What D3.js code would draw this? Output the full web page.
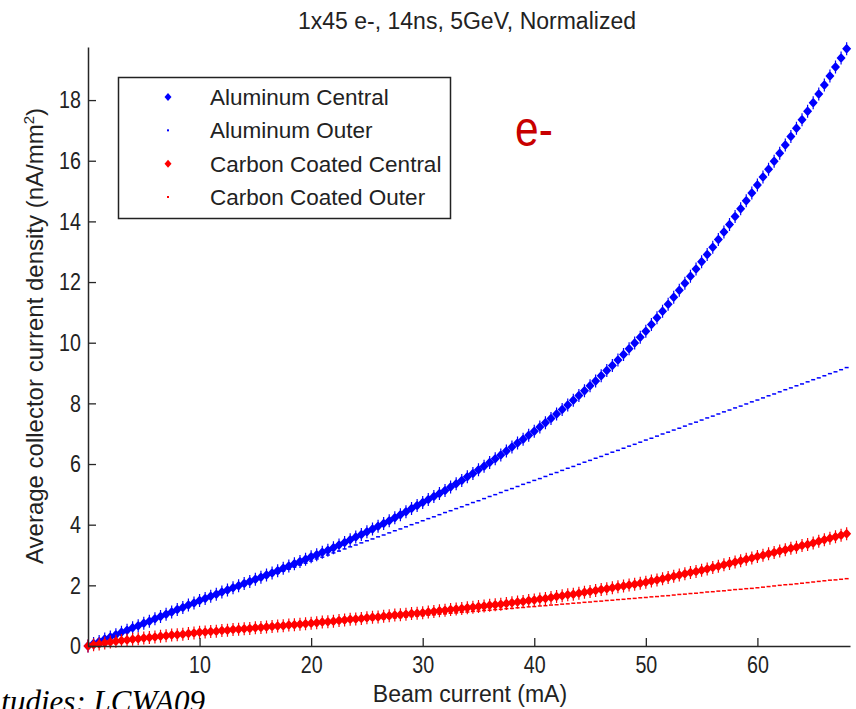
<!DOCTYPE html>
<html>
<head>
<meta charset="utf-8">
<script src="https://cdn.jsdelivr.net/npm/d3@7"></script>
<style>
  body { margin: 0; background: #fff; }
  svg { display: block; font-family: "Liberation Sans", Arial, sans-serif; }
</style>
</head>
<body>
<svg id="chart" width="856" height="709"></svg>
<script>
// beam current (mA), shared by all four series
const beamCurrent = [0,0.5,1,1.5,2,2.5,3,3.5,4,4.5,5,5.5,6,6.5,7,7.5,8,8.5,9,9.5,10,
  10.5,11,11.5,12,12.5,13,13.5,14,14.5,15,15.5,16,16.5,17,17.5,18,18.5,19,19.5,20,
  20.5,21,21.5,22,22.5,23,23.5,24,24.5,25,25.5,26,26.5,27,27.5,28,28.5,29,29.5,30,
  30.5,31,31.5,32,32.5,33,33.5,34,34.5,35,35.5,36,36.5,37,37.5,38,38.5,39,39.5,40,
  40.5,41,41.5,42,42.5,43,43.5,44,44.5,45,45.5,46,46.5,47,47.5,48,48.5,49,49.5,50,
  50.5,51,51.5,52,52.5,53,53.5,54,54.5,55,55.5,56,56.5,57,57.5,58,58.5,59,59.5,60,
  60.5,61,61.5,62,62.5,63,63.5,64,64.5,65,65.5,66,66.5,67,67.5,68];

// average collector current density (nA/mm^2)
const alCentral = [0,0.08,0.15,0.23,0.3,0.37,0.45,0.52,0.6,0.67,0.75,0.82,0.9,0.97,1.05,1.12,1.2,1.27,1.35,1.42,1.5,
  1.57,1.64,1.71,1.78,1.85,1.92,1.99,2.06,2.13,2.2,2.27,2.34,2.41,2.48,2.56,2.64,2.71,2.79,2.86,2.94,
  3.01,3.09,3.16,3.24,3.33,3.41,3.5,3.59,3.68,3.77,3.86,3.95,4.04,4.13,4.23,4.33,4.43,4.53,4.63,4.73,
  4.83,4.93,5.03,5.13,5.24,5.35,5.46,5.58,5.69,5.81,5.93,6.05,6.17,6.3,6.43,6.56,6.69,6.82,6.95,7.08,
  7.22,7.36,7.5,7.65,7.8,7.95,8.1,8.26,8.42,8.58,8.74,8.91,9.08,9.25,9.43,9.61,9.8,9.99,10.18,10.38,
  10.6,10.82,11.04,11.27,11.5,11.73,11.96,12.19,12.43,12.67,12.91,13.15,13.4,13.65,13.9,14.16,14.42,14.68,14.94,15.2,
  15.46,15.72,15.98,16.25,16.52,16.8,17.07,17.35,17.63,17.91,18.2,18.5,18.79,19.09,19.39,19.69];

const alOuter = [0,0.07,0.15,0.22,0.29,0.37,0.44,0.51,0.59,0.66,0.74,0.81,0.88,0.96,1.03,1.1,1.18,1.25,1.32,1.4,1.47,
  1.54,1.6,1.67,1.74,1.8,1.87,1.94,2.0,2.07,2.14,2.2,2.27,2.34,2.4,2.47,2.53,2.6,2.67,2.73,2.8,
  2.87,2.93,3.0,3.07,3.13,3.2,3.27,3.33,3.4,3.47,3.53,3.6,3.66,3.73,3.8,3.86,3.93,4.0,4.06,4.13,
  4.2,4.26,4.33,4.4,4.46,4.53,4.59,4.66,4.73,4.79,4.86,4.93,4.99,5.06,5.13,5.19,5.26,5.33,5.39,5.46,
  5.52,5.59,5.66,5.72,5.79,5.86,5.92,5.99,6.06,6.12,6.19,6.25,6.32,6.39,6.45,6.52,6.59,6.65,6.72,6.79,
  6.85,6.92,6.99,7.05,7.12,7.18,7.25,7.32,7.38,7.45,7.52,7.58,7.65,7.72,7.78,7.85,7.91,7.98,8.05,8.11,
  8.18,8.25,8.31,8.38,8.45,8.51,8.58,8.64,8.71,8.78,8.84,8.91,8.98,9.04,9.11,9.18];

const ccCentral = [0,0.04,0.07,0.1,0.13,0.16,0.18,0.2,0.22,0.24,0.26,0.28,0.3,0.32,0.34,0.36,0.37,0.39,0.41,0.43,0.45,
  0.46,0.48,0.49,0.51,0.52,0.54,0.55,0.57,0.58,0.6,0.61,0.63,0.64,0.66,0.67,0.69,0.7,0.72,0.73,0.75,
  0.77,0.79,0.8,0.82,0.84,0.86,0.88,0.89,0.91,0.93,0.95,0.96,0.98,1.0,1.02,1.03,1.05,1.07,1.08,1.1,
  1.12,1.14,1.16,1.18,1.2,1.22,1.24,1.26,1.28,1.3,1.32,1.34,1.36,1.38,1.4,1.43,1.45,1.47,1.5,1.52,
  1.55,1.57,1.6,1.63,1.66,1.69,1.71,1.74,1.77,1.8,1.83,1.86,1.89,1.92,1.95,1.98,2.01,2.04,2.07,2.1,
  2.14,2.18,2.22,2.26,2.3,2.34,2.38,2.42,2.46,2.5,2.54,2.59,2.63,2.68,2.72,2.77,2.81,2.86,2.9,2.95,
  2.99,3.04,3.08,3.13,3.17,3.22,3.26,3.31,3.35,3.4,3.45,3.5,3.55,3.6,3.65,3.7];

const ccOuter = [0,0.04,0.07,0.1,0.12,0.15,0.17,0.19,0.21,0.23,0.25,0.27,0.29,0.31,0.33,0.34,0.36,0.38,0.4,0.41,0.43,
  0.44,0.46,0.47,0.49,0.5,0.52,0.53,0.55,0.56,0.58,0.59,0.61,0.62,0.64,0.65,0.66,0.68,0.69,0.71,0.72,
  0.73,0.75,0.76,0.78,0.79,0.8,0.82,0.83,0.85,0.86,0.87,0.89,0.9,0.92,0.93,0.94,0.96,0.97,0.99,1.0,
  1.02,1.03,1.05,1.06,1.08,1.09,1.11,1.12,1.14,1.15,1.17,1.18,1.2,1.21,1.23,1.24,1.26,1.27,1.29,1.3,
  1.32,1.33,1.35,1.36,1.38,1.39,1.41,1.42,1.44,1.45,1.47,1.48,1.5,1.51,1.53,1.54,1.56,1.57,1.59,1.6,
  1.62,1.63,1.65,1.66,1.68,1.7,1.71,1.73,1.74,1.76,1.78,1.79,1.81,1.82,1.84,1.86,1.87,1.89,1.9,1.92,
  1.94,1.96,1.98,2.0,2.02,2.03,2.05,2.07,2.09,2.11,2.13,2.15,2.17,2.18,2.2,2.22];

const seriesNames = ["Aluminum Central", "Aluminum Outer", "Carbon Coated Central", "Carbon Coated Outer"];
const xTicks = [10, 20, 30, 40, 50, 60];
const yTicks = [0, 2, 4, 6, 8, 10, 12, 14, 16, 18];

const series = [
  { name: seriesNames[0], values: alCentral, color: "#0000ff", big: true },
  { name: seriesNames[1], values: alOuter, color: "#0000ff", big: false },
  { name: seriesNames[2], values: ccCentral, color: "#ff0000", big: true },
  { name: seriesNames[3], values: ccOuter, color: "#ff0000", big: false }
];

const svg = d3.select("#chart");
const margin = { left: 88, top: 47, right: 6, bottom: 63 };
const W = 856, H = 709;

const x = d3.scaleLinear().domain([0, 68.3]).range([margin.left, W - margin.right]);
const y = d3.scaleLinear().domain([0, 19.75]).range([H - margin.bottom, margin.top]);

// diamond with a small cross through it, like the matlab markers
const marker = "M0,-5L4.5,0L0,5L-4.5,0Z M-0.6,-6.5h1.2v13h-1.2Z";

// data
series.forEach(s => {
  const pts = beamCurrent.map((b, i) => [b, s.values[i]]);
  const g = svg.append("g");
  if (s.big) {
    g.selectAll("path").data(pts).enter().append("path")
      .attr("d", marker)
      .attr("transform", d => `translate(${x(d[0])},${y(d[1])})`)
      .attr("fill", s.color);
  } else {
    g.selectAll("rect").data(pts).enter().append("rect")
      .attr("x", d => x(d[0]) - 2)
      .attr("y", d => y(d[1]) - 0.75)
      .attr("width", 4).attr("height", 1.5)
      .attr("fill", s.color);
  }
});

// axes
const axisColor = "#262626";
const xAxis = svg.append("g")
  .attr("transform", `translate(0,${y(0)})`)
  .call(d3.axisBottom(x).tickValues(xTicks).tickSizeInner(-8).tickSizeOuter(0).tickPadding(10));
const yAxis = svg.append("g")
  .attr("transform", `translate(${x(0)},0)`)
  .call(d3.axisLeft(y).tickValues(yTicks).tickSizeInner(-8).tickSizeOuter(0).tickPadding(7));

[xAxis, yAxis].forEach(a => {
  a.select(".domain").attr("stroke", axisColor).attr("stroke-width", 1.5);
  a.selectAll(".tick line").attr("stroke", axisColor).attr("stroke-width", 1.3);
  a.selectAll(".tick text").attr("fill", "#222").style("font-size", "24px")
    .style("font-family", '"Liberation Sans", Arial, sans-serif');
});
xAxis.selectAll(".tick text").attr("transform", "scale(0.82,1)");
yAxis.selectAll(".tick text").attr("transform", "scale(0.82,1)").attr("x", -7 / 0.82);

// title
svg.append("text")
  .attr("x", 467).attr("y", 29)
  .attr("text-anchor", "middle")
  .style("font-size", "23px").attr("fill", "#222")
  .text("1x45 e-, 14ns, 5GeV, Normalized");

// axis labels
svg.append("text")
  .attr("x", 470).attr("y", 702)
  .attr("text-anchor", "middle")
  .style("font-size", "23px").attr("fill", "#222")
  .text("Beam current (mA)");

const yl = svg.append("text")
  .attr("transform", "translate(43,336) rotate(-90)")
  .attr("text-anchor", "middle")
  .style("font-size", "24px").attr("fill", "#222");
yl.append("tspan").text("Average collector current density (nA/mm");
yl.append("tspan").text("2").style("font-size", "15px").attr("dy", -9);
yl.append("tspan").text(")").attr("dy", 9);

// e- annotation
svg.append("text")
  .attr("transform", "translate(515,146) scale(0.85,1)")
  .style("font-size", "50px").attr("fill", "#c80000")
  .text("e-");

// legend
const legend = svg.append("g");
legend.append("rect")
  .attr("x", 118.5).attr("y", 77.5).attr("width", 332).attr("height", 141)
  .attr("fill", "#fff").attr("stroke", "#222").attr("stroke-width", 1.5);
const legendRowY = d3.scalePoint().domain(seriesNames).range([97, 197]);
series.forEach(s => {
  const ry = legendRowY(s.name);
  if (s.big) {
    legend.append("path").attr("d", "M0,-4L3.5,0L0,4L-3.5,0Z")
      .attr("transform", `translate(168,${ry})`).attr("fill", s.color);
  } else {
    legend.append("rect").attr("x", 167).attr("y", ry - 1).attr("width", 2).attr("height", 2)
      .attr("fill", s.color);
  }
  legend.append("text")
    .attr("x", 210).attr("y", ry + 8)
    .style("font-size", "22.5px").attr("fill", "#222")
    .text(s.name);
});

// source note, cut by the left edge as in the original slide
svg.append("text")
  .attr("x", 205).attr("y", 712)
  .attr("text-anchor", "end")
  .style("font-family", '"Liberation Serif", "Times New Roman", serif')
  .style("font-style", "italic")
  .style("font-size", "31px").attr("fill", "#000")
  .text("tudies: LCWA09");
</script>
</body>
</html>
